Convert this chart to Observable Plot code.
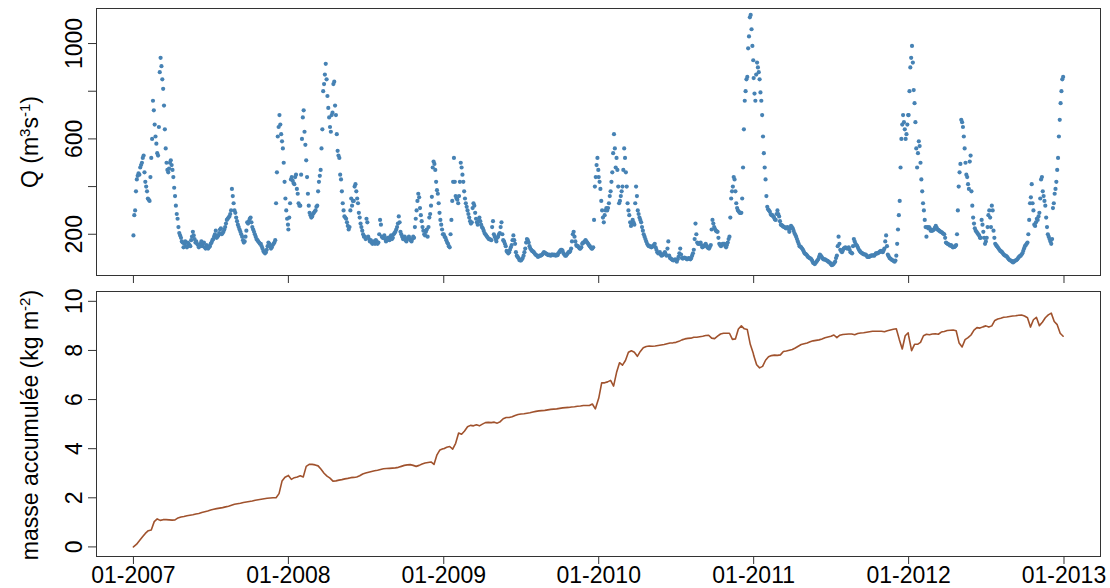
<!DOCTYPE html>
<html><head><meta charset="utf-8">
<script src="https://cdn.jsdelivr.net/npm/d3@7"></script>
<script src="https://cdn.jsdelivr.net/npm/@observablehq/plot@0.6"></script>
<style>
html,body{margin:0;padding:0;background:#fff;}
#chart{width:1110px;height:588px;overflow:hidden;background:#fff;}
#chart svg{display:block;}
</style></head><body><div id="chart"></div>
<script>
// ---- data: daily discharge Q (m3/s), read every 4 days from 1 January of each year (day 0, 4, 8, ...) ----
const years = [2007, 2008, 2009, 2010, 2011, 2012];
const qStepDays = 4;
const q2007 = [195,300,430,455,480,500,530,420,380,345,
 440,600,720,610,540,650,940,850,740,560,
 470,475,510,470,395,320,265,205,185,165,
 160,150,165,155,175,210,180,170,155,150,
 170,160,145,155,140,150,165,180,200,185,
 195,220,200,210,230,260,270,285,390,330,
 290,255,230,210,190,165,190,250,255,270,
 230,210,190,175,165,160,140,125,125,150,
 160,140,155,165,330,610,700,620,560,420,
 300,240];
const q2008 = [220,330,440,415,440,390,330,320,600,720,
 575,440,320,280,275,290,300,320,420,470,
 640,830,915,780,690,630,710,840,700,550,
 520,430,330,275,265,235,230,350,340,400,
 380,330,270,230,200,190,265,190,170,165,
 170,160,170,165,260,190,185,180,175,180,
 190,180,200,210,230,275,210,190,185,175,
 180,190,175,180,185,265,340,355,280,230,
 200,210,190,270,320,480,495,420,370,290,
 240,200];
const q2009 = [200,185,165,150,200,340,520,360,345,360,
 500,450,380,330,300,270,245,310,320,265,
 240,270,240,225,205,195,185,180,175,255,
 190,170,190,205,250,175,160,130,120,135,
 155,195,160,110,100,90,95,110,140,180,
 165,140,130,125,115,110,108,110,115,125,
 120,115,115,110,115,115,110,112,125,135,
 130,115,110,120,125,140,200,190,155,150,
 140,145,165,170,170,160,150,140,145,400,
 490,470];
const q2010 = [440,390,300,250,300,300,330,380,460,620,
 480,470,330,360,400,560,460,330,280,235,
 260,240,400,300,270,250,215,190,170,155,
 150,145,150,160,135,120,125,110,115,125,
 110,170,100,95,90,95,85,105,140,100,
 100,100,95,100,95,110,135,245,165,160,
 165,145,150,160,145,140,155,260,230,215,
 210,160,150,160,160,145,165,190,350,400,
 430,330,300,290,290,480,760,850,980,1110,
 1060,930];
const q2011 = [855,760,920,880,795,700,540,430,315,300,
 285,280,270,260,300,275,240,235,230,225,
 230,210,235,225,205,190,170,150,145,135,
 120,115,105,100,95,80,75,85,95,115,
 105,95,95,90,85,80,70,75,85,110,
 190,135,125,140,145,140,145,125,120,180,
 160,150,135,125,120,115,115,105,105,110,
 112,110,120,120,125,130,125,140,195,115,
 100,95,90,85,110,220,340,600,700,640,
 620,700];
const q2012 = [700,900,990,805,670,480,590,500,380,300,
 230,230,230,215,215,220,235,220,215,210,
 205,200,165,160,155,155,145,147,155,300,
 460,680,650,560,450,410,505,380,270,225,
 210,200,185,260,210,160,185,280,270,320,
 215,160,150,140,130,125,115,110,105,95,
 90,85,85,90,95,105,110,120,140,155,
 165,260,355,330,240,250,260,290,430,380,
 340,270,200,180,160,310,370,420,520,680,
 800,860];

// ---- Q read on the in-between days (day 2, 6, 10, ...) ----
const qMidOffsetDays = 2;
const qMid2007 = [280,380,445,450,490,520,460,400,350,340,
 520,760,660,580,530,880,905,810,640,500,
 460,500,490,440,360,285,230,195,170,145,
 170,145,160,150,190,195,165,160,145,160,
 150,165,140,150,145,160,175,190,215,190,
 205,225,205,220,245,265,275,300,360,300,
 270,240,220,200,175,170,215,245,265,250,
 220,200,180,170,160,150,130,120,135,165,
 150,145,160,175,460,650,660,590,500,350,
 265];
const qMid2008 = [270,430,425,410,450,370,320,450,690,630,
 510,370,290,270,285,295,315,380,445,560,
 800,870,850,730,650,700,830,740,620,530,
 450,380,300,270,250,220,300,320,340,410,
 350,290,245,215,190,180,250,180,175,160,
 165,175,160,200,240,185,195,170,185,175,
 195,185,205,220,245,250,200,180,190,170,
 185,180,170,190,230,300,370,310,255,215,
 195,220,230,285,357,505,470,385,330,260,
 220];
const qMid2009 = [190,175,160,145,260,420,420,350,330,420,
 480,420,350,315,285,255,250,330,290,250,
 255,255,230,215,200,190,180,178,230,200,
 180,185,200,230,200,170,150,125,125,145,
 175,175,125,105,92,90,100,125,165,175,
 150,135,128,120,112,105,110,112,120,122,
 118,112,112,115,112,112,115,120,130,135,
 120,110,115,125,130,170,210,170,150,145,
 140,160,165,175,165,155,145,140,260,440,
 520];
const qMid2010 = [420,340,270,280,310,310,360,420,540,560,
 520,400,340,380,470,520,400,300,250,245,
 250,330,360,285,260,230,200,180,160,150,
 148,148,155,145,125,122,115,112,120,115,
 140,110,98,92,92,90,95,120,115,98,
 102,98,97,98,100,120,180,200,160,162,
 155,148,155,152,142,148,220,245,222,212,
 185,155,155,160,152,155,180,270,380,440,
 380,310,295,290,350,640,800,860,1030,1120,
 990];
const qMid2011 = [790,870,900,850,760,610,480,360,305,295,
 280,275,262,285,285,255,238,232,228,228,
 222,225,230,215,198,180,160,148,140,128,
 118,110,102,98,88,78,80,90,105,110,
 100,95,92,88,82,75,72,80,100,150,
 160,130,132,142,142,142,135,122,150,170,
 155,142,130,122,118,115,110,105,108,110,
 111,115,120,122,128,128,132,170,150,108,
 98,92,88,90,160,280,480,660,670,600,
 660];
const qMid2012 = [800,940,920,750,560,540,570,430,330,260,
 190,225,225,215,218,228,228,218,212,208,
 202,185,162,158,152,150,146,150,200,400,
 495,670,610,500,440,390,530,320,245,215,
 205,195,185,240,185,170,230,300,230,300,
 185,155,145,135,128,120,112,108,100,92,
 88,82,88,92,100,108,115,130,150,160,
 200,330,410,300,235,265,275,350,440,360,
 320,230,190,170,180,330,390,470,610,750,
 850];

// ---- data: accumulated mass (kg m-2), read every 7 days from 1 January of each year ----
const mStepDays = 7;
const m2007 = [0.0,0.1,0.25,0.4,0.55,0.66,0.69,1.03,1.14,1.08,
 1.11,1.11,1.1,1.09,1.1,1.18,1.22,1.24,1.27,1.29,
 1.31,1.34,1.36,1.4,1.43,1.46,1.5,1.53,1.56,1.58,
 1.6,1.63,1.66,1.7,1.74,1.76,1.78,1.81,1.83,1.85,
 1.87,1.9,1.92,1.94,1.96,1.98,1.99,2.0,2.0,2.17,
 2.68,2.84,2.9];
const m2008 = [2.91,2.75,2.82,2.85,2.9,2.85,3.28,3.36,3.36,3.34,
 3.3,3.16,3.0,2.88,2.8,2.68,2.69,2.72,2.74,2.77,
 2.79,2.82,2.83,2.85,2.9,2.97,3.01,3.04,3.07,3.1,
 3.12,3.15,3.18,3.19,3.2,3.21,3.22,3.24,3.28,3.32,
 3.34,3.35,3.32,3.28,3.32,3.38,3.42,3.44,3.46,3.36,
 3.75,3.95,4.0];
const m2009 = [4.0,4.06,4.09,3.98,4.22,4.64,4.59,4.72,4.89,4.95,
 4.93,4.97,4.93,5.0,5.06,5.07,5.06,5.08,5.04,5.1,
 5.22,5.27,5.27,5.3,5.35,5.39,5.41,5.42,5.44,5.46,
 5.49,5.52,5.54,5.55,5.56,5.58,5.6,5.61,5.62,5.64,
 5.66,5.67,5.68,5.7,5.71,5.73,5.74,5.76,5.76,5.76,
 5.82,5.62,6.0];
const m2010 = [6.05,6.68,6.68,6.72,6.78,6.55,7.1,7.5,7.4,7.59,
 7.93,7.99,7.93,7.76,7.96,8.11,8.16,8.18,8.17,8.18,
 8.2,8.22,8.24,8.27,8.3,8.31,8.33,8.37,8.43,8.47,
 8.49,8.5,8.54,8.54,8.56,8.58,8.61,8.62,8.5,8.48,
 8.58,8.67,8.7,8.7,8.7,8.45,8.47,8.87,9.0,8.88,
 8.85,8.25,7.89];
const m2011 = [7.8,7.42,7.29,7.35,7.6,7.74,7.79,7.81,7.8,7.82,
 7.96,7.98,8.01,8.04,8.1,8.17,8.24,8.27,8.3,8.35,
 8.39,8.41,8.43,8.47,8.52,8.55,8.58,8.63,8.52,8.62,
 8.65,8.66,8.67,8.67,8.64,8.69,8.71,8.72,8.74,8.76,
 8.78,8.78,8.78,8.78,8.76,8.8,8.83,8.86,8.88,8.45,
 8.06,8.6,8.72];
const m2012 = [8.6,7.99,8.25,8.25,8.33,8.6,8.66,8.64,8.67,8.68,
 8.66,8.75,8.77,8.81,8.82,8.83,8.8,8.3,8.14,8.44,
 8.52,8.63,8.83,8.93,8.91,8.96,9.0,8.95,9.0,9.22,
 9.28,9.31,9.35,9.36,9.38,9.4,9.41,9.43,9.44,9.4,
 9.33,8.95,9.25,9.35,9.01,9.15,9.33,9.45,9.52,9.18,
 9.05,8.7,8.58];

// ---- axis ticks and labels ----
const xTickYears = [2007, 2008, 2009, 2010, 2011, 2012, 2013];
const xTickFormat = "%m-%Y";
const qTicks = [200, 400, 600, 800, 1000];
const qTickLabels = [200, 600, 1000];
const mTicks = [0, 2, 4, 6, 8, 10];
const qTitle = ["Q (m", "3", "s", "-1", ")"];
const mTitle = ["masse accumulée (kg m", "-2", ")"];

// ---- build tables ----
const qSeries = [q2007, q2008, q2009, q2010, q2011, q2012];
const qMidSeries = [qMid2007, qMid2008, qMid2009, qMid2010, qMid2011, qMid2012];
const mSeries = [m2007, m2008, m2009, m2010, m2011, m2012];
const qData = years.flatMap((yr, j) => [
  ...qSeries[j].map((v, i) => ({date: new Date(Date.UTC(yr, 0, 1 + qStepDays * i)), q: v})),
  ...qMidSeries[j].map((v, i) => ({date: new Date(Date.UTC(yr, 0, 1 + qMidOffsetDays + qStepDays * i)), q: v}))
]).sort((a, b) => a.date - b.date);
const mData = years.flatMap((yr, j) => mSeries[j].map((v, i) => ({date: new Date(Date.UTC(yr, 0, 1 + mStepDays * i)), m: v})));
const xTicks = xTickYears.map(y => new Date(Date.UTC(y, 0, 1)));
const xDomain = [new Date(Date.UTC(2006, 9, 6)), new Date(Date.UTC(2013, 2, 28))];

const FONT = "'Liberation Sans', Arial, Helvetica, sans-serif";
const FS = 23;
const AXIS = "#333";
const W = 1110;

const topPlot = Plot.plot({
  width: W, height: 284,
  marginLeft: 96, marginRight: 10, marginTop: 8, marginBottom: 9,
  style: {fontFamily: FONT, fontSize: FS + "px", color: "#000", background: "#fff", overflow: "visible"},
  x: {type: "utc", domain: xDomain},
  y: {domain: [27, 1147]},
  marks: [
    Plot.dot(qData, {x: "date", y: "q", r: 2.1, fill: "#4682B4"}),
    Plot.frame({stroke: AXIS}),
    Plot.axisY({ticks: qTicks, tickSize: 8, tickFormat: () => "", label: null, stroke: AXIS}),
    Plot.text(qTickLabels, {y: d => d, text: d => String(d), frameAnchor: "left", dx: -14.5, rotate: -90, lineAnchor: "bottom", textAnchor: "middle", fontSize: FS, fill: "#000"}),
    Plot.axisX({ticks: xTicks, tickSize: 8, tickFormat: () => "", label: null, stroke: AXIS})
  ]
});

const fmt = d3.utcFormat(xTickFormat);
const botPlot = Plot.plot({
  width: W, height: 304,
  marginLeft: 96, marginRight: 10, marginTop: 7, marginBottom: 32,
  style: {fontFamily: FONT, fontSize: FS + "px", color: "#000", background: "#fff", overflow: "visible"},
  x: {type: "utc", domain: xDomain},
  y: {domain: [-0.39, 10.4]},
  marks: [
    Plot.line(mData, {x: "date", y: "m", stroke: "#A0522D", strokeWidth: 1.6}),
    Plot.frame({stroke: AXIS}),
    Plot.axisY({ticks: mTicks, tickSize: 8, tickFormat: () => "", label: null, stroke: AXIS}),
    Plot.text(mTicks, {y: d => d, text: d => String(d), frameAnchor: "left", dx: -14.5, rotate: -90, lineAnchor: "bottom", textAnchor: "middle", fontSize: FS, fill: "#000"}),
    Plot.axisX({ticks: xTicks, tickSize: 8, tickPadding: 2, tickFormat: fmt, label: null, stroke: AXIS, fontSize: FS, fill: "#000"})
  ]
});

function addTitle(svg, parts, supIdx, cx, cy) {
  const t = d3.select(svg).append("text")
    .attr("transform", `translate(${cx},${cy}) rotate(-90)`)
    .attr("text-anchor", "middle")
    .attr("font-family", FONT)
    .attr("font-size", FS)
    .attr("fill", "#000");
  let raised = false;
  parts.forEach((p, i) => {
    const sup = supIdx.includes(i);
    const ts = t.append("tspan").text(p);
    if (sup) { ts.attr("font-size", 15).attr("dy", -8); raised = true; }
    else if (raised) { ts.attr("dy", 8); raised = false; }
  });
}
addTitle(topPlot, qTitle, [1, 3], 37.5, 142);
addTitle(botPlot, mTitle, [1], 37.5, 141);

const chart = document.getElementById("chart");
chart.appendChild(topPlot);
chart.appendChild(botPlot);
</script>
</body></html>
